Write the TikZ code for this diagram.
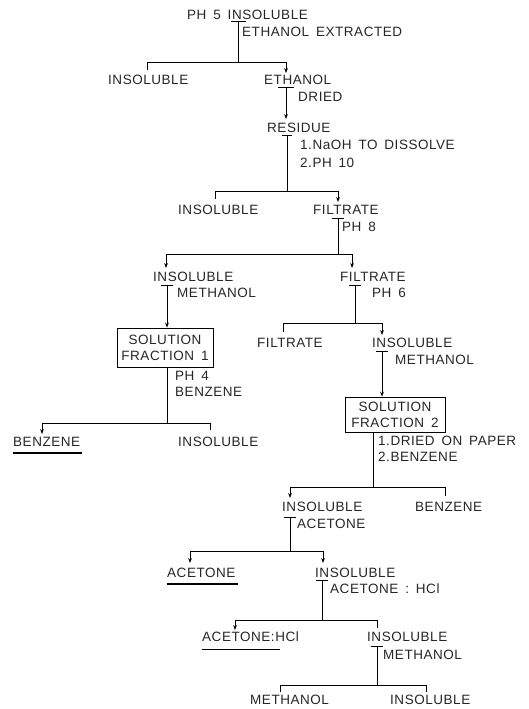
\documentclass[tikz,border=0pt]{standalone}
\usepackage{fontspec}
\setmainfont{Liberation Sans}[LetterSpace=4,WordSpace=1.6]
\usetikzlibrary{arrows.meta}
\begin{document}
\begin{tikzpicture}[x=1pt,y=-1pt,
  font=\fontsize{13.5}{15}\selectfont,
  lbl/.style={anchor=west,inner sep=0pt,text height=9.6pt,text depth=0pt,text=black!85},
  ln/.style={line width=0.8pt},
  arr/.style={ln,-{Stealth[length=5pt,width=3.8pt]}},
  boxnode/.style={draw,line width=0.8pt,align=center,inner sep=0pt,text=black!85,font=\fontsize{13.5}{16}\selectfont},
  ul/.style={line width=1.6pt}]
\useasboundingbox (0,0) rectangle (528,709);

% ---------- labels ----------
\node[lbl] (ph5) at (187,15) {PH 5 INSOLUBLE};
\node[lbl] (ethext) at (242,32) {ETHANOL EXTRACTED};
\node[lbl] (ins1) at (108,80) {INSOLUBLE};
\node[lbl] (eth) at (264,80) {ETHANOL};
\node[lbl] (dried) at (298,97) {DRIED};
\node[lbl] (res) at (267,128) {RESIDUE};
\node[lbl] (naoh) at (300,145) {1.NaOH TO DISSOLVE};
\node[lbl] (ph10) at (300,163) {2.PH 10};
\node[lbl] (ins2) at (178,210) {INSOLUBLE};
\node[lbl] (fil1) at (313,210) {FILTRATE};
\node[lbl] (ph8) at (342,227) {PH 8};
\node[lbl] (ins3) at (153,277) {INSOLUBLE};
\node[lbl] (fil2) at (340,277) {FILTRATE};
\node[lbl] (meth1) at (177,293) {METHANOL};
\node[lbl] (ph6) at (372,293) {PH 6};
\node[boxnode,minimum width=96pt,minimum height=39pt] (sol1) at (165,347.5) {SOLUTION\\FRACTION 1};
\node[lbl] (ph4) at (175,376) {PH 4};
\node[lbl] (benz1) at (175,392) {BENZENE};
\node[lbl] (benz2) at (13,442) {BENZENE};
\node[lbl] (ins4) at (178,442) {INSOLUBLE};
\node[lbl] (fil3) at (257,343) {FILTRATE};
\node[lbl] (ins5) at (372,343) {INSOLUBLE};
\node[lbl] (meth2) at (395,360) {METHANOL};
\node[boxnode,minimum width=100pt,minimum height=35pt] (sol2) at (395,414.5) {SOLUTION\\FRACTION 2};
\node[lbl] (dop) at (378,441) {1.DRIED ON PAPER};
\node[lbl] (benz3) at (378,457) {2.BENZENE};
\node[lbl] (ins6) at (282,507) {INSOLUBLE};
\node[lbl] (benz4) at (415,507) {BENZENE};
\node[lbl] (ace1) at (297,524) {ACETONE};
\node[lbl] (ace2) at (167,573) {ACETONE};
\node[lbl] (ins7) at (315,573) {INSOLUBLE};
\node[lbl] (acehcl1) at (330,589) {ACETONE : HCl};
\node[lbl] (acehcl2) at (202,637) {ACETONE:HCl};
\node[lbl] (ins8) at (367,637) {INSOLUBLE};
\node[lbl] (meth3) at (383,655) {METHANOL};
\node[lbl] (meth4) at (250,700) {METHANOL};
\node[lbl] (ins9) at (390,700) {INSOLUBLE};

% underlines of the final products
\draw[ul] (benz2.south west) ++(0,6) -- ++(69,0);
\draw[ul] (ace2.south west) ++(0,6) -- ++(71,0);
\draw[ln] (acehcl2.south west) ++(0,7) -- ++(78,0);

% ---------- coordinates ----------
\coordinate (t1) at (238,21);  \coordinate (j1) at (238,62);
\coordinate (l1) at (147,62);  \coordinate (r1) at (286,62);
\coordinate (t2) at (286,87);  \coordinate (e2) at (286,119);
\coordinate (t3) at (287,135); \coordinate (j3) at (287,191);
\coordinate (l3) at (215,191); \coordinate (r3) at (338,191);
\coordinate (t4) at (338,218); \coordinate (j4) at (338,254);
\coordinate (l4) at (166,254); \coordinate (r4) at (352,254);
\coordinate (t5) at (167,285);
\coordinate (t6) at (355,285); \coordinate (j6) at (355,323);
\coordinate (l6) at (283,323); \coordinate (r6) at (382,323);
\coordinate (t7) at (382,351);
\coordinate (j8) at (167,423);
\coordinate (l8) at (42,423);  \coordinate (r8) at (210,423);
\coordinate (j9) at (373,487);
\coordinate (l9) at (290,487); \coordinate (r9) at (445,487);
\coordinate (t10) at (290,517); \coordinate (j10) at (290,551);
\coordinate (l10) at (190,551); \coordinate (r10) at (323,551);
\coordinate (t11) at (322,580); \coordinate (j11) at (322,620);
\coordinate (l11) at (235,620); \coordinate (r11) at (377,620);
\coordinate (t12) at (377,646); \coordinate (j12) at (377,685);
\coordinate (l12) at (280,685); \coordinate (r12) at (426,685);

% ---------- connectors ----------
% step 1
\draw[ln] ([xshift=-7pt]t1) -- ([xshift=8pt]t1);
\draw[ln] (t1) -- (j1);
\draw[ln] (l1) -- (r1);
\draw[ln] (l1) -- ++(0,8);
\draw[arr] (r1) -- ++(0,11);
% ethanol -> residue
\draw[ln] ([xshift=-8pt]t2) -- ([xshift=8pt]t2);
\draw[arr] (t2) -- (e2);
% residue
\draw[ln] ([xshift=-5pt]t3) -- ([xshift=5pt]t3);
\draw[ln] (t3) -- (j3);
\draw[ln] (l3) -- (r3);
\draw[ln] (l3) -- ++(0,8);
\draw[arr] (r3) -- ++(0,11);
% filtrate ph 8
\draw[ln] ([xshift=-6pt]t4) -- ([xshift=6pt]t4);
\draw[ln] (t4) -- (j4);
\draw[ln] (l4) -- (r4);
\draw[arr] (l4) -- ++(0,14);
\draw[arr] (r4) -- ++(0,14);
% insoluble methanol -> solution 1
\draw[ln] ([xshift=-6pt]t5) -- ([xshift=6pt]t5);
\draw[arr] (t5) -- (sol1.north -| t5);
% filtrate ph 6
\draw[ln] ([xshift=-6pt]t6) -- ([xshift=6pt]t6);
\draw[ln] (t6) -- (j6);
\draw[ln] (l6) -- (r6);
\draw[ln] (l6) -- ++(0,9);
\draw[arr] (r6) -- ++(0,12);
% insoluble methanol -> solution 2
\draw[ln] ([xshift=-6pt]t7) -- ([xshift=6pt]t7);
\draw[arr] (t7) -- (sol2.north -| t7);
% solution 1 split
\draw[ln] (sol1.south -| j8) -- (j8);
\draw[ln] (l8) -- (r8);
\draw[arr] (l8) -- ++(0,11);
\draw[ln] (r8) -- ++(0,7);
% solution 2 split
\draw[ln] (sol2.south -| j9) -- (j9);
\draw[ln] (l9) -- (r9);
\draw[arr] (l9) -- ++(0,11);
\draw[ln] (r9) -- ++(0,9);
% insoluble acetone
\draw[ln] ([xshift=-6pt]t10) -- ([xshift=6pt]t10);
\draw[ln] (t10) -- (j10);
\draw[ln] (l10) -- (r10);
\draw[arr] (l10) -- ++(0,12);
\draw[arr] (r10) -- ++(0,12);
% insoluble acetone:hcl
\draw[ln] ([xshift=-6pt]t11) -- ([xshift=6pt]t11);
\draw[ln] (t11) -- (j11);
\draw[ln] (l11) -- (r11);
\draw[arr] (l11) -- ++(0,10);
\draw[ln] (r11) -- ++(0,8);
% insoluble methanol (last)
\draw[ln] ([xshift=-6pt]t12) -- ([xshift=6pt]t12);
\draw[ln] (t12) -- (j12);
\draw[ln] (l12) -- (r12);
\draw[ln] (l12) -- ++(0,7);
\draw[ln] (r12) -- ++(0,7);
\end{tikzpicture}
\end{document}
